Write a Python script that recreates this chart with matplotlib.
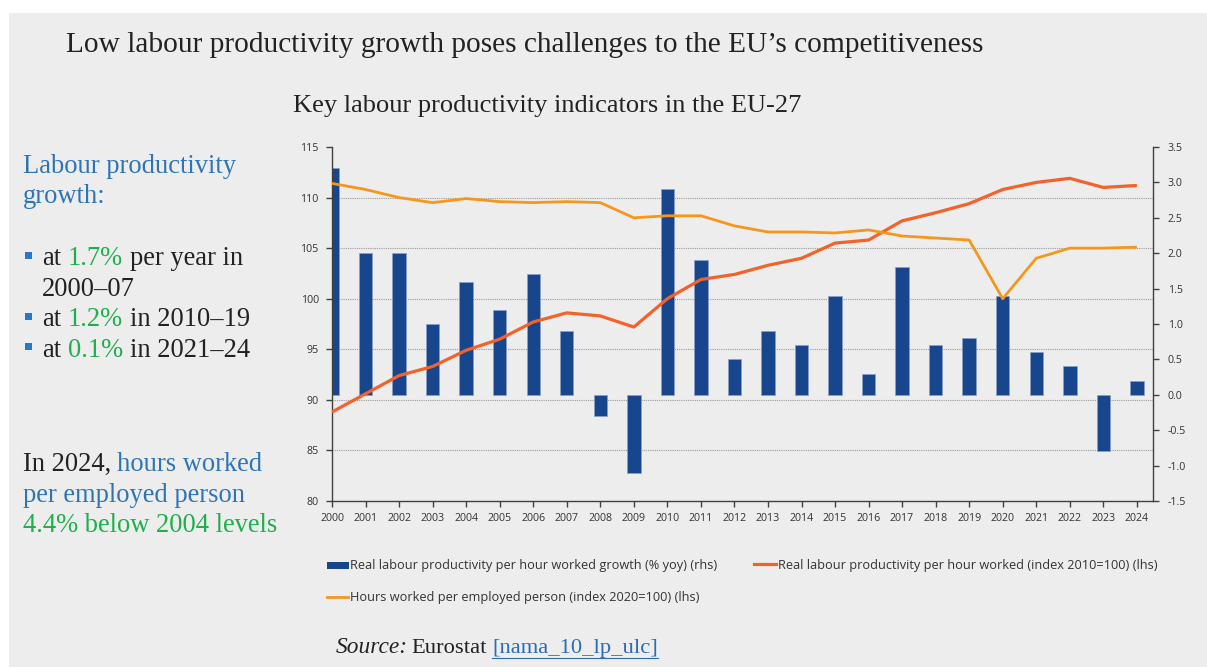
import matplotlib
matplotlib.use("Agg")
import matplotlib.pyplot as plt
from matplotlib.patches import Rectangle
from matplotlib.lines import Line2D
from matplotlib.ticker import FormatStrFormatter

plt.rcParams['axes.unicode_minus'] = False

# ---------------- data ----------------
years = [2000, 2001, 2002, 2003, 2004, 2005, 2006, 2007, 2008, 2009, 2010, 2011, 2012,
         2013, 2014, 2015, 2016, 2017, 2018, 2019, 2020, 2021, 2022, 2023, 2024]
growth_pct = [3.2, 2.0, 2.0, 1.0, 1.6, 1.2, 1.7, 0.9, -0.3, -1.1, 2.9, 1.9, 0.5,
              0.9, 0.7, 1.4, 0.3, 1.8, 0.7, 0.8, 1.4, 0.6, 0.4, -0.8, 0.2]
productivity_idx = [88.8, 90.6, 92.4, 93.3, 94.9, 96.0, 97.7, 98.6, 98.3, 97.2, 100.0, 101.9, 102.4,
                    103.3, 104.0, 105.5, 105.8, 107.7, 108.5, 109.4, 110.8, 111.5, 111.9, 111.0, 111.2]
hours_idx = [111.4, 110.8, 110.0, 109.5, 109.9, 109.6, 109.5, 109.6, 109.5, 108.0, 108.2, 108.2, 107.2,
             106.6, 106.6, 106.5, 106.8, 106.2, 106.0, 105.8, 100.0, 104.0, 105.0, 105.0, 105.1]
year_labels = [str(y) for y in years]
lhs_ticks = [80, 85, 90, 95, 100, 105, 110, 115]
rhs_ticks = [-1.5, -1.0, -0.5, 0.0, 0.5, 1.0, 1.5, 2.0, 2.5, 3.0, 3.5]

label_bar = "Real labour productivity per hour worked growth (% yoy) (rhs)"
label_prod = "Real labour productivity per hour worked (index 2010=100) (lhs)"
label_hours = "Hours worked per employed person (index 2020=100) (lhs)"

# ---------------- styles ----------------
W, H = 1207, 667
BG = '#EDEDED'
BAR = '#17468C'
RED = '#F4612B'
ORANGE = '#F7961D'
BLUE_TXT = '#2E75B6'
BULLET = '#2778C8'
GREEN_TXT = '#1FAF4B'
LINK = '#2B6CB8'
DARK = '#222222'
SERIF = 'Liberation Serif'
SANS = ['Open Sans', 'DejaVu Sans']
TICK_C = '#404040'
LEG_FS = 9.2

fig = plt.figure(figsize=(W / 100, H / 100), dpi=100)
fig.patch.set_facecolor('white')

bg = fig.add_axes([0, 0, 1, 1], zorder=0)
bg.set_xlim(0, W)
bg.set_ylim(H, 0)
bg.axis('off')
bg.add_patch(Rectangle((9, 13), W - 9, H - 13, facecolor=BG, edgecolor='none'))

# ---------------- chart ----------------
ax = fig.add_axes([332 / W, 1 - 501 / H, (1153.3 - 332) / W, (501 - 147) / H], zorder=3)
ax2 = ax.twinx()
ax2.set_zorder(2)
ax.patch.set_visible(False)
ax2.patch.set_visible(False)

ax2.bar(years, growth_pct, width=0.4, color=BAR, edgecolor='#8AA0C8', linewidth=0.5, zorder=2)
ax2.set_ylim(rhs_ticks[0], rhs_ticks[-1])
ax2.set_yticks(rhs_ticks)
ax2.yaxis.set_major_formatter(FormatStrFormatter('%.1f'))

# gridlines at the left-hand ticks, drawn behind the bars
l0, l1 = lhs_ticks[0], lhs_ticks[-1]
r0, r1 = rhs_ticks[0], rhs_ticks[-1]
grid_r = [r0 + (v - l0) * (r1 - r0) / (l1 - l0) for v in lhs_ticks[1:]]
ax2.set_yticks(grid_r, minor=True)
ax2.yaxis.grid(True, which='minor', color='#9A9A9A', linestyle=(0, (1, 1)), linewidth=0.8)
ax2.set_axisbelow(True)
ax2.tick_params(axis='y', which='minor', length=0)

ax.plot(years, productivity_idx, color=RED, lw=2.3, solid_capstyle='butt', zorder=3)
ax.plot(years, hours_idx, color=ORANGE, lw=2.0, solid_capstyle='butt', zorder=3)
ax.set_ylim(l0, l1)
ax.set_yticks(lhs_ticks)
ax.set_xlim(2000, 2024.49)
ax.set_xticks(years)
ax.set_xticklabels(year_labels)

for a in (ax, ax2):
    for s in a.spines.values():
        s.set_color(TICK_C)
        s.set_linewidth(1.0)
ax.spines['top'].set_visible(False)
ax.spines['right'].set_visible(False)
ax2.spines['top'].set_visible(False)
ax2.spines['left'].set_visible(False)
ax2.spines['bottom'].set_visible(False)

ax.tick_params(axis='y', direction='out', length=4, width=1, color=TICK_C, labelcolor='#333333',
               labelsize=7.7, pad=5.5)
ax.tick_params(axis='x', direction='out', length=4, width=1, color=TICK_C, labelcolor='#333333',
               labelsize=7.7, pad=4.5)
ax2.tick_params(axis='y', which='major', direction='out', length=4, width=1, color=TICK_C,
                labelcolor='#333333', labelsize=7.7, pad=6.5)
for lab in ax.get_xticklabels() + ax.get_yticklabels() + ax2.get_yticklabels():
    lab.set_family(SANS)

# ---------------- legend (manual) ----------------
bg.add_patch(Rectangle((327, 561.7), 22, 7.3, facecolor=BAR, edgecolor='none'))
bg.text(350, 569.3, label_bar, fontsize=LEG_FS, family=SANS, color='#333333', va='baseline', ha='left')
bg.add_line(Line2D([754, 776], [564.2, 564.2], color=RED, lw=2.3))
bg.text(777.5, 569.3, label_prod, fontsize=LEG_FS, family=SANS, color='#333333', va='baseline', ha='left')
bg.add_line(Line2D([327, 348], [596.7, 596.7], color=ORANGE, lw=2.0))
bg.text(350, 601, label_hours, fontsize=LEG_FS, family=SANS, color='#333333', va='baseline', ha='left')


# ---------------- texts ----------------
def space_px(size):
    return 0.25 * size * 100 / 72


def rich(x, y, parts, size):
    prev = None
    for txt, color, extra in parts:
        lead = len(txt) - len(txt.lstrip(' '))
        s = txt.strip(' ')
        kw = dict(fontsize=size, color=color, family=SERIF)
        kw.update(extra)
        if prev is None:
            prev = bg.text(x, y, s, va='baseline', ha='left', **kw)
        else:
            prev = bg.annotate(s, xy=(1, 0), xycoords=prev, xytext=(lead * space_px(size), 0),
                               textcoords='offset pixels', va='bottom', ha='left', **kw)
    return prev


bg.text(66, 52.3, "Low labour productivity growth poses challenges to the EU\u2019s competitiveness",
        fontsize=21.2, family=SERIF, color=DARK, va='baseline', ha='left')
bg.text(293, 111.7, "Key labour productivity indicators in the EU-27",
        fontsize=19, family=SERIF, color=DARK, va='baseline', ha='left')

LS = 19.1
bg.text(23, 173.3, "Labour productivity", fontsize=LS, family=SERIF, color=BLUE_TXT, va='baseline')
bg.text(23, 202.7, "growth:", fontsize=LS, family=SERIF, color=BLUE_TXT, va='baseline')

for yb in (265, 326, 356.7):
    bg.add_patch(Rectangle((25, yb - 13.5), 7, 7, facecolor=BULLET, edgecolor='none'))

rich(42.3, 265, [("at", DARK, {}), (" 1.7%", GREEN_TXT, {}), (" per year in", DARK, {})], LS)
bg.text(42.3, 295.7, "2000\u201307", fontsize=LS, family=SERIF, color=DARK, va='baseline')
rich(42.3, 326, [("at", DARK, {}), (" 1.2%", GREEN_TXT, {}), (" in 2010\u201319", DARK, {})], LS)
rich(42.3, 356.7, [("at", DARK, {}), (" 0.1%", GREEN_TXT, {}), (" in 2021\u201324", DARK, {})], LS)

rich(22.7, 470.7, [("In 2024,", DARK, {}), (" hours worked", BLUE_TXT, {})], LS)
bg.text(22.7, 501.7, "per employed person", fontsize=LS, family=SERIF, color=BLUE_TXT, va='baseline')
bg.text(22.7, 531.7, "4.4% below 2004 levels", fontsize=LS, family=SERIF, color=GREEN_TXT, va='baseline')

# source line
SRC_FS = 16.2
bg.text(336, 653.3, "Source:", fontsize=16.8, family=SERIF, style='italic', color=DARK, va='baseline')
bg.text(411.5, 653.3, "Eurostat", fontsize=SRC_FS, family=SERIF, color=DARK, va='baseline')
link = bg.text(492.3, 653.3, "[nama_10_lp_ulc]", fontsize=SRC_FS, family=SERIF, color=LINK, va='baseline')

fig.canvas.draw()
bb = link.get_window_extent(fig.canvas.get_renderer())
inv = bg.transData.inverted()
(x0, _), (x1, _) = inv.transform([(bb.x0, bb.y0), (bb.x1, bb.y0)])
bg.add_line(Line2D([x0, x1], [657.8, 657.8], color=LINK, lw=0.8))

fig.savefig('out.png', dpi=100, facecolor=fig.get_facecolor())
